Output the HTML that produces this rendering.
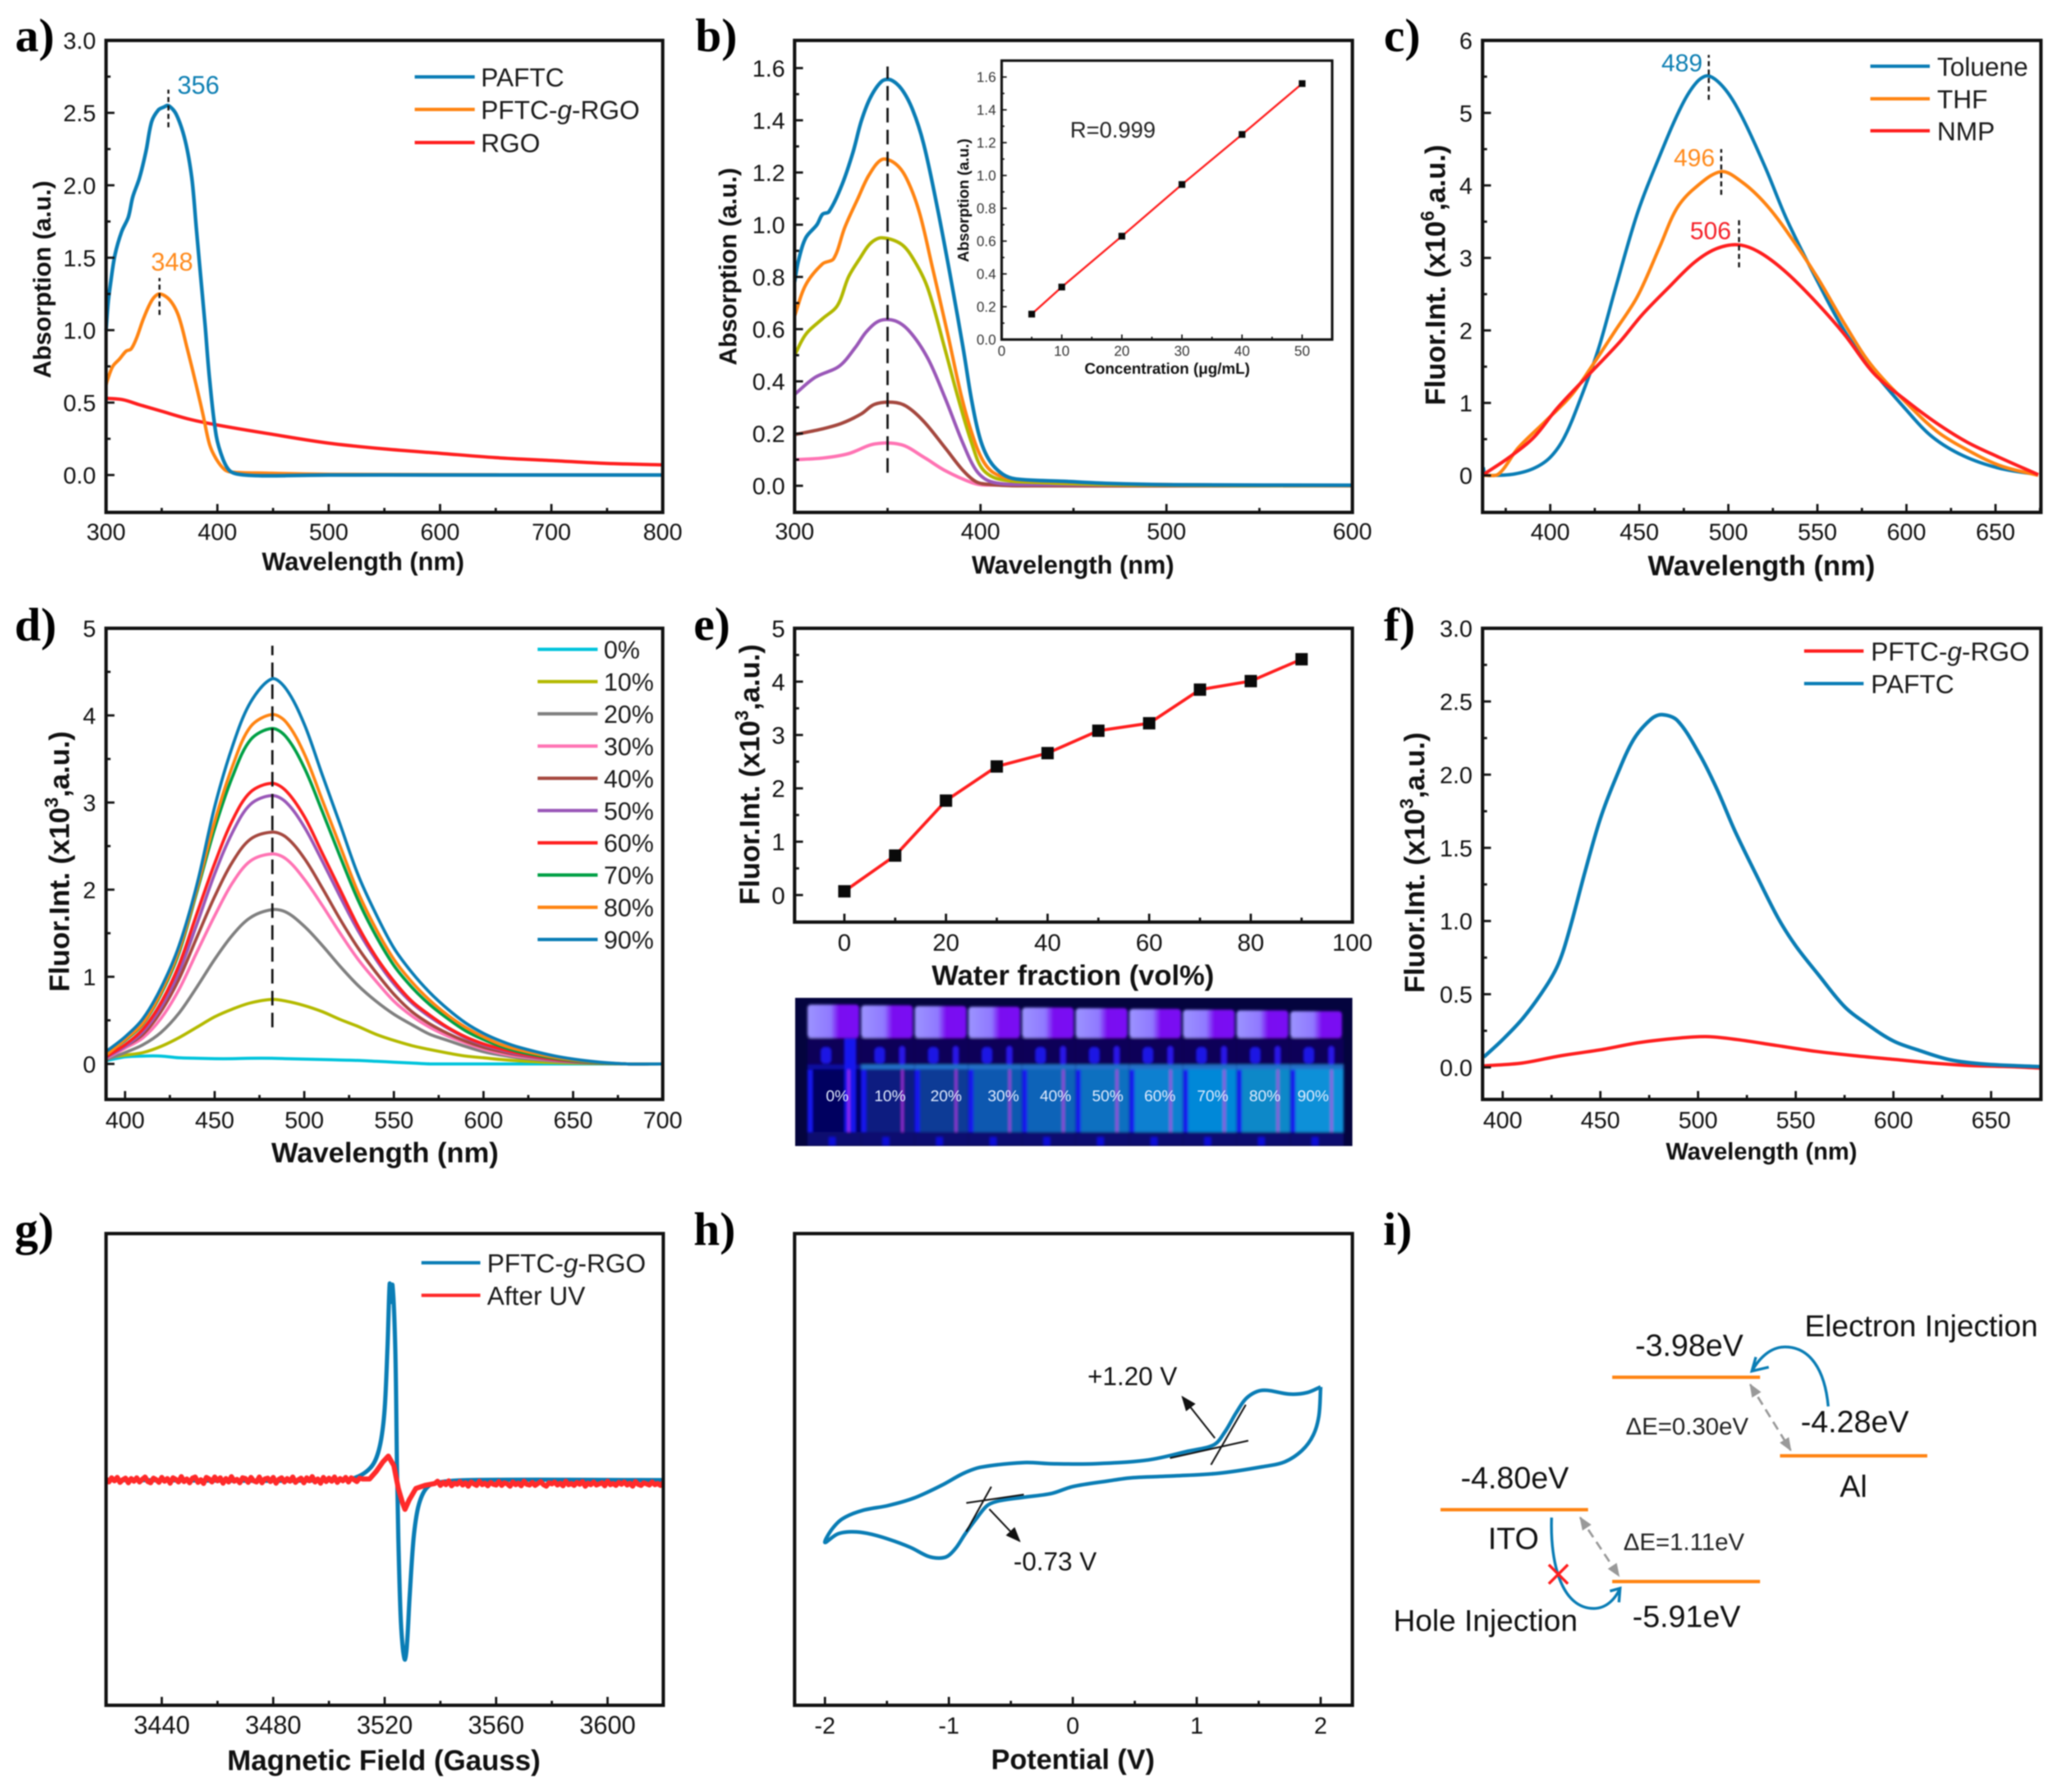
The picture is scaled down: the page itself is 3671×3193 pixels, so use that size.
<!DOCTYPE html>
<html lang="en">
<head>
<meta charset="utf-8">
<title>Optical and electrochemical characterisation panels</title>
<style>
html,body{margin:0;padding:0;background:#fff;}
#fig{display:block;width:3671px;height:3193px;font-family:"Liberation Sans",sans-serif;filter:blur(1px);}
.pl{font-family:"Liberation Serif",serif;font-weight:700;font-size:84px;fill:#000;}
.at{font-weight:700;fill:#111;text-anchor:middle;}
.lg{font-size:46.3px;fill:#1a1a1a;}
.fr{fill:none;stroke:#111;stroke-width:6;}
.e{font-size:55px;fill:#111;}
.inj{font-size:54.2px;fill:#111;}
</style>
</head>
<body>
<svg id="fig" viewBox="0 0 3671 3193">
<defs>
<marker id="ah" viewBox="0 0 10 10" refX="9" refY="5" markerWidth="9" markerHeight="9" orient="auto-start-reverse"><path d="M0 1 L10 5 L0 9 Z" fill="#111"/></marker>
<marker id="ag" viewBox="0 0 10 10" refX="9" refY="5" markerWidth="6" markerHeight="6" orient="auto-start-reverse"><path d="M0 1 L10 5 L0 9 Z" fill="#999"/></marker>
<linearGradient id="capg" x1="0" x2="1" y1="0" y2="0"><stop offset="0" stop-color="#9c94ff"/><stop offset=".45" stop-color="#8f78ff"/><stop offset=".6" stop-color="#7a10f0"/><stop offset="1" stop-color="#7a08f4"/></linearGradient>
<filter id="soft"><feGaussianBlur stdDeviation="2.2"/></filter>
<clipPath id="photoClip"><rect x="1417" y="1778" width="993" height="264"/></clipPath>
</defs>
<rect x="0" y="0" width="3671" height="3193" fill="#fff"/>

<!-- Panel a -->
<g>
<text class="pl" x="27" y="91">a)</text>
<g id="a-marks"></g>
<rect class="fr" x="189" y="72" width="992" height="841"/>
<g id="a-axes"></g>
<text class="at" x="647" y="1016" font-size="45">Wavelength (nm)</text>
<text class="at" x="90" y="498" font-size="44" transform="rotate(-90 90 498)">Absorption (a.u.)</text>
<text x="316" y="167" font-size="45" fill="#0d7fb3">356</text>
<text x="269" y="482" font-size="45" fill="#ff8a1c">348</text>
<line x1="739" x2="846" y1="137" y2="137" stroke="#0a7db5" stroke-width="6"/>
<text class="lg" x="857" y="154">PAFTC</text>
<line x1="739" x2="846" y1="195" y2="195" stroke="#ff8412" stroke-width="6"/>
<text class="lg" x="857" y="212">PFTC-<tspan font-style="italic">g</tspan>-RGO</text>
<line x1="739" x2="846" y1="254" y2="254" stroke="#ff1f1f" stroke-width="6"/>
<text class="lg" x="857" y="271">RGO</text>
</g>

<!-- Panel b -->
<g>
<text class="pl" x="1239" y="91">b)</text>
<g id="b-marks"></g>
<rect class="fr" x="1416" y="72" width="994" height="841"/>
<g id="b-axes"></g>
<text class="at" x="1912" y="1022" font-size="45">Wavelength (nm)</text>
<text class="at" x="1312" y="475" font-size="44" transform="rotate(-90 1312 475)">Absorption (a.u.)</text>
<g id="inset-marks"></g>
<rect x="1785" y="108" width="589" height="497" fill="none" stroke="#111" stroke-width="4.5"/>
<g id="inset-axes"></g>
<text x="1907" y="245" font-size="40" fill="#222">R=0.999</text>
<text class="at" x="2080" y="666" font-size="27.5">Concentration (μg/mL)</text>
<text class="at" x="1726" y="357" font-size="27.5" transform="rotate(-90 1726 357)">Absorption (a.u.)</text>
</g>

<!-- Panel c -->
<g>
<text class="pl" x="2466" y="91">c)</text>
<g id="c-marks"></g>
<rect class="fr" x="2642" y="72" width="995" height="841"/>
<g id="c-axes"></g>
<text class="at" x="3139" y="1025" font-size="50.5">Wavelength (nm)</text>
<text class="at" x="2575" y="490" font-size="50.5" transform="rotate(-90 2575 490)">Fluor.Int. (x10<tspan font-size="33" dy="-20">6</tspan><tspan dy="20">,a.u.)</tspan></text>
<text x="3034" y="127" font-size="44" text-anchor="end" fill="#0d7fb3">489</text>
<text x="3056" y="296" font-size="44" text-anchor="end" fill="#ff8a1c">496</text>
<text x="3085" y="426" font-size="44" text-anchor="end" fill="#f5222a">506</text>
<line x1="3333" x2="3439" y1="118" y2="118" stroke="#0a7db5" stroke-width="6"/>
<text class="lg" x="3452" y="135">Toluene</text>
<line x1="3333" x2="3439" y1="176" y2="176" stroke="#ff8412" stroke-width="6"/>
<text class="lg" x="3452" y="193">THF</text>
<line x1="3333" x2="3439" y1="233" y2="233" stroke="#ff1f1f" stroke-width="6"/>
<text class="lg" x="3452" y="250">NMP</text>
</g>

<!-- Panel d -->
<g>
<text class="pl" x="26" y="1141">d)</text>
<g id="d-marks"></g>
<rect class="fr" x="189" y="1119.5" width="992" height="839.5"/>
<g id="d-axes"></g>
<text class="at" x="686" y="2071" font-size="50.5">Wavelength (nm)</text>
<text class="at" x="123" y="1535" font-size="50.5" transform="rotate(-90 123 1535)">Fluor.Int. (x10<tspan font-size="33" dy="-20">3</tspan><tspan dy="20">,a.u.)</tspan></text>
<g id="d-legend"></g>
</g>

<!-- Panel e -->
<g>
<text class="pl" x="1236" y="1140">e)</text>
<g id="e-marks"></g>
<rect class="fr" x="1416" y="1119.5" width="994" height="523.5"/>
<g id="e-axes"></g>
<text class="at" x="1912" y="1755" font-size="50.5">Water fraction (vol%)</text>
<text class="at" x="1353" y="1380" font-size="50.5" transform="rotate(-90 1353 1380)">Fluor.Int. (x10<tspan font-size="33" dy="-20">3</tspan><tspan dy="20">,a.u.)</tspan></text>
<g id="photo"></g>
</g>

<!-- Panel f -->
<g>
<text class="pl" x="2466" y="1141">f)</text>
<g id="f-marks"></g>
<rect class="fr" x="2642" y="1119.5" width="995" height="839.5"/>
<g id="f-axes"></g>
<text class="at" x="3139" y="2066" font-size="42.5">Wavelength (nm)</text>
<text class="at" x="2538" y="1537" font-size="50.5" transform="rotate(-90 2538 1537)">Fluor.Int. (x10<tspan font-size="33" dy="-20">3</tspan><tspan dy="20">,a.u.)</tspan></text>
<line x1="3215" x2="3321" y1="1160" y2="1160" stroke="#ff1f1f" stroke-width="6"/>
<text class="lg" x="3334" y="1177">PFTC-<tspan font-style="italic">g</tspan>-RGO</text>
<line x1="3215" x2="3321" y1="1218" y2="1218" stroke="#0a7db5" stroke-width="6"/>
<text class="lg" x="3334" y="1235">PAFTC</text>
</g>

<!-- Panel g -->
<g>
<text class="pl" x="26" y="2218">g)</text>
<g id="g-marks"></g>
<rect class="fr" x="189" y="2198" width="993" height="840.5"/>
<g id="g-axes"></g>
<text class="at" x="684" y="3154" font-size="51">Magnetic Field (Gauss)</text>
<line x1="751" x2="856" y1="2250" y2="2250" stroke="#0a7db5" stroke-width="6"/>
<text class="lg" x="868" y="2267">PFTC-<tspan font-style="italic">g</tspan>-RGO</text>
<line x1="751" x2="856" y1="2308" y2="2308" stroke="#ff2a2a" stroke-width="6"/>
<text class="lg" x="868" y="2325">After UV</text>
</g>

<!-- Panel h -->
<g>
<text class="pl" x="1236" y="2218">h)</text>
<g id="h-marks"></g>
<rect class="fr" x="1416" y="2198" width="994" height="840.5"/>
<g id="h-axes"></g>
<text class="at" x="1912" y="3152" font-size="50">Potential (V)</text>
<g stroke="#111" stroke-width="3">
<line x1="2085" y1="2598" x2="2224.5" y2="2567"/>
<line x1="2158" y1="2610" x2="2220" y2="2503"/>
<line x1="1722" y1="2678" x2="1824.5" y2="2663"/>
<line x1="1722" y1="2729" x2="1766.5" y2="2649"/>
<line x1="2165" y1="2562.5" x2="2107" y2="2489" marker-end="url(#ah)"/>
<line x1="1763" y1="2689" x2="1817" y2="2746" marker-end="url(#ah)"/>
</g>
<text x="1938" y="2468" font-size="46" fill="#111">+1.20 V</text>
<text x="1806" y="2798" font-size="46" fill="#111">-0.73 V</text>
</g>

<!-- Panel i -->
<g>
<text class="pl" x="2465" y="2218">i)</text>
<g stroke="#ff8412" stroke-width="6">
<line x1="2873" x2="3136.5" y1="2454" y2="2454"/>
<line x1="3172" x2="3434.5" y1="2594" y2="2594"/>
<line x1="2567" x2="2830" y1="2690" y2="2690"/>
<line x1="2873" x2="3136.5" y1="2818" y2="2818"/>
</g>
<text class="e" x="2914" y="2416">-3.98eV</text>
<text class="e" x="3209" y="2552">-4.28eV</text>
<text class="e" x="2603" y="2652">-4.80eV</text>
<text class="e" x="2909" y="2899">-5.91eV</text>
<text class="e" x="3303" y="2667" text-anchor="middle">Al</text>
<text class="e" x="2697" y="2760" text-anchor="middle">ITO</text>
<text class="inj" x="3216" y="2381">Electron Injection</text>
<text class="inj" x="2483" y="2906">Hole Injection</text>
<text x="2897" y="2556" font-size="43" fill="#222">ΔE=0.30eV</text>
<text x="2893" y="2762" font-size="43" fill="#222">ΔE=1.11eV</text>
<g fill="none" stroke="#0a7db5" stroke-width="5">
<path d="M3258 2506 C3252 2440 3225 2400 3181 2400 C3155 2400 3135 2420 3122 2443 M3129 2418 L3122 2443 L3152 2436"/>
<path d="M2765 2704 C2762 2790 2785 2866 2840 2866 C2862 2866 2878 2850 2887 2830 M2869 2835 L2887 2830 L2885 2855"/>
</g>
<g stroke="#ff1f1f" stroke-width="5">
<line x1="2760" y1="2788" x2="2794" y2="2822"/>
<line x1="2794" y1="2788" x2="2760" y2="2822"/>
</g>
<line x1="3119" y1="2467" x2="3191" y2="2584" stroke="#999" stroke-width="4" stroke-dasharray="16 10" marker-start="url(#ag)" marker-end="url(#ag)"/>
<line x1="2816" y1="2704" x2="2885" y2="2808" stroke="#999" stroke-width="4" stroke-dasharray="16 10" marker-start="url(#ag)" marker-end="url(#ag)"/>
</g>
</svg>

<script>
/* ---------- Panel a data ---------- */
const aXTicks=['300','400','500','600','700','800'];
const aXMinor=[350,450,550,650,750];
const aYTicks=['0.0','0.5','1.0','1.5','2.0','2.5','3.0'];
const aYMinor=[0.25,0.75,1.25,1.75,2.25,2.75];
const aPaftcX=[300,302,304,308,314,320,324,330,336,341,347,352,356,363,371,377,381,385,389,393,399,405,411,419,440,500,600,700,800];
const aPaftcY=[1.0,1.2,1.32,1.52,1.68,1.78,1.92,2.05,2.24,2.44,2.52,2.54,2.55,2.49,2.31,2.05,1.71,1.37,1.03,0.66,0.27,0.11,0.03,0.005,-0.005,0,0,0,0];
const aPftcX=[300,301,306,312,318,322.5,327.6,333.6,341.5,348,357,365,373,381,387,393,399,406.6,413,442,501,800];
const aPftcY=[0.62,0.65,0.75,0.8,0.855,0.87,0.95,1.08,1.21,1.25,1.21,1.1,0.87,0.62,0.42,0.21,0.11,0.037,0.02,0.013,0.005,0];
const aRgoX=[300,315,330,350,375,400,450,500,550,600,650,700,750,800];
const aRgoY=[0.53,0.52,0.485,0.44,0.385,0.345,0.28,0.22,0.18,0.15,0.12,0.1,0.08,0.07];

/* ---------- Panel b data ---------- */
const bXTicks=['300','400','500','600'];
const bXMinor=[350,450,550];
const bYTicks=['0.0','0.2','0.4','0.6','0.8','1.0','1.2','1.4','1.6'];
const bYMinor=[0.1,0.3,0.5,0.7,0.9,1.1,1.3,1.5];
const b50X=[300,302,306,312,315,318.5,325.6,331.5,336,341,347,351.6,357.5,363.5,369.4,376.5,383.6,390.7,395.4,400,405,412,419,445,469,504,600];
const b50Y=[0.78,0.86,0.95,1.0,1.04,1.05,1.155,1.28,1.4,1.49,1.55,1.555,1.52,1.44,1.31,1.075,0.81,0.525,0.32,0.175,0.095,0.044,0.026,0.017,0.009,0.004,0.002];
const b40X=[300,306,315,321,327,334,340,347,354,360,367,374,382.4,389.5,395.4,401,407,417,445,481,600];
const b40Y=[0.65,0.77,0.85,0.87,0.99,1.1,1.19,1.25,1.235,1.18,1.05,0.84,0.58,0.35,0.2,0.1,0.05,0.026,0.015,0.006,0];
const b30X=[300,306,315,323,329,335,341,347,357.5,364.6,371.7,381,388,395.4,401,409.6,433,481,600];
const b30Y=[0.5,0.58,0.64,0.69,0.8,0.87,0.93,0.95,0.925,0.86,0.755,0.52,0.335,0.16,0.065,0.026,0.012,0.003,0];
const b20X=[300,311,324,332.7,338.6,345.7,354,362,371.7,381,390.7,397.8,405,420,600];
const b20Y=[0.35,0.415,0.458,0.53,0.59,0.632,0.632,0.59,0.487,0.335,0.16,0.058,0.017,0.005,0];
const b10X=[300,315,325.6,336,343,352.8,360,369.4,381,390.7,397.8,405,420,600];
const b10Y=[0.196,0.218,0.24,0.276,0.312,0.32,0.305,0.247,0.145,0.058,0.015,0.005,0,0];
const b5X=[300,315,329,343,357.5,369.4,381,395.4,402.5,600];
const b5Y=[0.1,0.106,0.123,0.16,0.157,0.11,0.058,0.012,0.003,0];

const insetXTicks=['0','10','20','30','40','50'];
const insetXMinor=[5,15,25,35,45];
const insetYTicks=['0.0','0.2','0.4','0.6','0.8','1.0','1.2','1.4','1.6'];
const insetYMinor=[0.1,0.3,0.5,0.7,0.9,1.1,1.3,1.5];
const insetConcentration=[5,10,20,30,40,50];
const insetAbsorption=[0.155,0.32,0.63,0.945,1.25,1.56];

/* ---------- Panel c data ---------- */
const cXTicks=['400','450','500','550','600','650'];
const cXMinor=[375,425,475,525,575,625,675];
const cYTicks=['0','1','2','3','4','5','6'];
const cYMinor=[0.5,1.5,2.5,3.5,4.5,5.5];
const cTolueneX=[362.4,363.6,368.6,380,391,400,408,417,427,436.6,449,461.5,474,482.5,489,498.4,508,520.7,533,550,565,580,600,614.6,632,652,674];
const cTolueneY=[0.11,0.01,0,0.02,0.1,0.25,0.53,1.06,1.74,2.58,3.62,4.41,5.11,5.43,5.51,5.32,4.93,4.25,3.52,2.68,2.0,1.48,0.9,0.53,0.27,0.1,0.01];
const cThfX=[363,371,382,397,412,424,436.6,449,461.4,471,481,496,508,520.7,533,550,565,580,600,617,632,652,674];
const cThfY=[0,0.02,0.38,0.74,1.11,1.53,2.0,2.47,3.15,3.68,3.96,4.19,4.04,3.75,3.36,2.73,2.1,1.53,1.0,0.61,0.38,0.14,0];
const cNmpX=[363,377,391,404,422,439,451.4,466,481,493.5,506,518,533,550,565,582,600,617,634,652,674];
const cNmpY=[0.02,0.25,0.53,0.93,1.4,1.84,2.21,2.58,2.94,3.13,3.18,3.07,2.79,2.37,1.95,1.4,1.03,0.72,0.46,0.25,0.01];

/* ---------- Panel d data ---------- */
const dXTicks=['400','450','500','550','600','650','700'];
const dXMinor=[425,475,525,575,625,675];
const dYTicks=['0','1','2','3','4','5'];
const dYMinor=[0.5,1.5,2.5,3.5,4.5];
const dWavelength=[390,400,410,420,430,440,450,460,470,482,490,500,510,520,530,540,550,560,570,580,590,600,610,620,640,660,680,700];
const dWater0=[0.04,0.08,0.09,0.09,0.07,0.065,0.06,0.06,0.065,0.065,0.06,0.055,0.05,0.045,0.04,0.03,0.02,0.01,0,0,0,0,0,0,0,0,0,0];
const dWater10=[0.07,0.1,0.13,0.2,0.3,0.42,0.54,0.63,0.7,0.74,0.72,0.67,0.6,0.51,0.43,0.34,0.27,0.21,0.165,0.125,0.09,0.07,0.05,0.035,0.015,0.005,0,0];
const dWater20=[0.05,0.13,0.22,0.36,0.58,0.88,1.2,1.48,1.68,1.77,1.74,1.58,1.36,1.12,0.9,0.72,0.57,0.45,0.34,0.27,0.2,0.14,0.1,0.07,0.03,0.01,0,0];
const dWater30=[0.07,0.18,0.3,0.52,0.85,1.28,1.7,2.08,2.33,2.41,2.35,2.12,1.82,1.5,1.2,0.95,0.72,0.55,0.42,0.32,0.24,0.17,0.12,0.085,0.04,0.015,0,0];
const dWater40=[0.08,0.2,0.34,0.6,0.97,1.45,1.92,2.32,2.58,2.66,2.6,2.36,2.02,1.66,1.33,1.05,0.8,0.6,0.46,0.35,0.26,0.19,0.14,0.1,0.045,0.015,0,0];
const dWater50=[0.08,0.2,0.37,0.65,1.05,1.6,2.18,2.66,2.98,3.08,3.0,2.72,2.33,1.92,1.53,1.2,0.92,0.7,0.54,0.41,0.3,0.22,0.16,0.11,0.05,0.02,0,0];
const dWater60=[0.09,0.22,0.4,0.7,1.13,1.72,2.3,2.8,3.12,3.22,3.13,2.84,2.42,2.0,1.58,1.23,0.95,0.72,0.56,0.42,0.31,0.23,0.17,0.12,0.055,0.02,0,0];
const dWater70=[0.12,0.27,0.46,0.8,1.27,1.97,2.7,3.3,3.72,3.85,3.75,3.4,2.9,2.38,1.88,1.47,1.13,0.88,0.68,0.52,0.38,0.28,0.2,0.14,0.065,0.02,0,0];
const dWater80=[0.11,0.28,0.47,0.82,1.3,2.0,2.78,3.42,3.87,4.01,3.92,3.56,3.03,2.5,1.97,1.55,1.2,0.94,0.73,0.56,0.42,0.31,0.22,0.16,0.075,0.025,0,0];
const dWater90=[0.15,0.31,0.52,0.87,1.35,2.05,2.95,3.65,4.15,4.42,4.3,3.9,3.32,2.75,2.17,1.72,1.33,1.05,0.82,0.63,0.47,0.35,0.26,0.19,0.09,0.03,0,0];
const dLegendLabels=['0%','10%','20%','30%','40%','50%','60%','70%','80%','90%'];

/* ---------- Panel e data ---------- */
const eXTicks=['0','20','40','60','80','100'];
const eXMinor=[10,30,50,70,90];
const eYTicks=['0','1','2','3','4','5'];
const eYMinor=[0.5,1.5,2.5,3.5,4.5];
const eWaterFraction=[0,10,20,30,40,50,60,70,80,90];
const eIntensity=[0.07,0.74,1.77,2.41,2.66,3.08,3.22,3.85,4.01,4.42];
const photoLabels=['0%','10%','20%','30%','40%','50%','60%','70%','80%','90%'];
const photoLiquid=['#000060','#0a1a80','#0c3a96','#0a58b0','#0864b8','#0870c0','#0880d0','#0088d8','#0a88c8','#0890d8'];

/* ---------- Panel f data ---------- */
const fXTicks=['400','450','500','550','600','650'];
const fXMinor=[425,475,525,575,625];
const fYTicks=['0.0','0.5','1.0','1.5','2.0','2.5','3.0'];
const fYMinor=[0.25,0.75,1.25,1.75,2.25,2.75];
const fPaftcX=[390.3,400,410.6,422,428.6,434,442,450,458,467,476,481.5,489.4,500.7,509.7,518.7,530,541,550,561.5,575,586,600,613,629,647,675];
const fPaftcY=[0.07,0.19,0.34,0.55,0.71,0.93,1.33,1.7,1.98,2.24,2.38,2.41,2.37,2.14,1.9,1.62,1.31,1.02,0.83,0.635,0.415,0.3,0.18,0.117,0.052,0.022,0.005];
const fPftcX=[390,410,430,450,470,490,505,520,540,560,580,600,620,640,660,675];
const fPftcY=[0.01,0.03,0.08,0.12,0.17,0.2,0.21,0.19,0.15,0.11,0.08,0.055,0.03,0.012,0.005,-0.005];

/* ---------- Panel g data ---------- */
const gXTicks=['3440','3480','3520','3560','3600'];
const gXMinor=[3460,3500,3540,3580];
const gBlueX=[3420,3505,3511.5,3516,3518.5,3520,3521,3521.8,3522.2,3522.8,3523.8,3524.4,3524.9,3525.7,3526.5,3527.3,3528,3529,3530.4,3532,3534.4,3537.5,3550,3620];
const gBlueY=[0,0,0.13,0.43,0.98,1.88,3.48,5.16,4.68,5.13,3.48,0.48,-1.52,-3.52,-4.42,-4.72,-4.32,-3.02,-1.52,-0.72,-0.27,-0.09,0,0];
const gRedX=[
3420,3421,3422,3423,3424,3425,3426,3427,3428,3429,
3430,3431,3432,3433,3434,3435,3436,3437,3438,3439,
3440,3441,3442,3443,3444,3445,3446,3447,3448,3449,
3450,3451,3452,3453,3454,3455,3456,3457,3458,3459,
3460,3461,3462,3463,3464,3465,3466,3467,3468,3469,
3470,3471,3472,3473,3474,3475,3476,3477,3478,3479,
3480,3481,3482,3483,3484,3485,3486,3487,3488,3489,
3490,3491,3492,3493,3494,3495,3496,3497,3498,3499,
3500,3501,3502,3503,3504,3505,3506,3507,3508,3509,
3510,3511,3512,
3514.6,3517,3519.4,3521.3,3523.3,3524.9,3526.5,3527.3,3528.8,3531.2,3534.4,
3538,3539,3540,3541,3542,3543,3544,3545,3546,3547,
3548,3549,3550,3551,3552,3553,3554,3555,3556,3557,
3558,3559,3560,3561,3562,3563,3564,3565,3566,3567,
3568,3569,3570,3571,3572,3573,3574,3575,3576,3577,
3578,3579,3580,3581,3582,3583,3584,3585,3586,3587,
3588,3589,3590,3591,3592,3593,3594,3595,3596,3597,
3598,3599,3600,3601,3602,3603,3604,3605,3606,3607,
3608,3609,3610,3611,3612,3613,3614,3615,3616,3617,
3618,3619,3620];
const gRedY=[
0.03,-0.05,0.06,-0.02,0.07,-0.06,0.01,0.05,-0.07,0.04,
-0.03,0.06,-0.05,0.02,0.08,-0.04,-0.07,0.05,0.01,-0.06,
0.07,-0.03,0.04,-0.08,0.06,0.02,-0.05,0.09,-0.04,0.03,
-0.07,0.05,0.08,-0.06,0.01,-0.09,0.07,0.03,-0.05,0.08,
-0.02,0.06,-0.08,0.04,-0.05,0.09,-0.03,0.02,-0.07,0.06,
0.04,-0.06,0.07,-0.02,-0.05,0.08,-0.07,0.03,0.05,-0.04,
0.07,-0.08,0.02,0.06,-0.05,0.04,-0.03,0.08,-0.06,0.01,
0.05,-0.07,0.06,-0.02,0.09,-0.05,0.03,-0.08,0.07,-0.04,
0.05,-0.03,0.08,-0.06,0.04,-0.02,0.07,-0.05,0.06,0.01,
-0.04,0.05,0.03,
0.03,0.23,0.48,0.63,0.38,-0.22,-0.62,-0.77,-0.52,-0.22,-0.14,
-0.09,-0.03,-0.14,-0.06,-0.12,-0.02,-0.15,-0.08,-0.11,-0.04,
-0.13,-0.07,-0.16,-0.05,-0.1,-0.14,-0.03,-0.12,-0.08,-0.15,
-0.06,-0.11,-0.13,-0.04,-0.14,-0.07,-0.1,-0.16,-0.05,-0.12,
-0.08,-0.15,-0.03,-0.11,-0.13,-0.06,-0.14,-0.09,-0.04,-0.12,
-0.16,-0.07,-0.1,-0.05,-0.13,-0.08,-0.15,-0.03,-0.12,-0.09,
-0.14,-0.06,-0.11,-0.04,-0.16,-0.08,-0.12,-0.05,-0.13,-0.1,
-0.07,-0.15,-0.03,-0.12,-0.09,-0.14,-0.06,-0.11,-0.05,-0.13,
-0.08,-0.16,-0.04,-0.11,-0.14,-0.07,-0.1,-0.13,-0.05,-0.12,
-0.09,-0.14,-0.06];

/* ---------- Panel h data ---------- */
const hXTicks=['-2','-1','0','1','2'];
const hXMinor=[-1.5,-0.5,0.5,1.5];
const hPotential=[2,1.985,1.94,1.85,1.71,1.53,1.18,0.82,0.47,0.29,0,-0.17,-0.39,-0.6,-0.69,-0.78,-0.87,-0.94,-1.01,-1.08,-1.17,-1.31,-1.49,-1.66,-1.79,-1.9,-2,-1.95,-1.86,-1.7,-1.49,-1.28,-1.06,-0.88,-0.74,-0.39,-0.17,0.18,0.61,0.93,1.14,1.23,1.32,1.41,1.53,1.75,1.89,2];
const hCurrent=[4.97,4.2,3.7,3.3,3.0,2.87,2.7,2.63,2.58,2.5,2.35,2.17,2.07,1.97,1.85,1.5,1.1,0.75,0.52,0.47,0.52,0.75,0.97,1.12,1.16,1.1,0.88,1.2,1.5,1.72,1.85,2.05,2.38,2.7,2.86,2.98,2.95,2.95,3.05,3.28,3.45,3.8,4.3,4.7,4.88,4.78,4.82,4.97];

/* ---------- Drawing helpers ---------- */
const svgNS=document.getElementById('fig').namespaceURI;
const BLUE='#0a7db5',ORANGE='#ff8412',RED='#ff1f1f';

function frameOf(l,r,t,b,x0,x1,y0,y1){
  return {l,r,t,b,
    sx:v=>l+(v-x0)/(x1-x0)*(r-l),
    sy:v=>b-(v-y0)/(y1-y0)*(b-t)};
}
const fa=frameOf(189,1181,72,913,300,800,-0.258,3);
const fb=frameOf(1416,2410,72,913,300,600,-0.102,1.706);
const fi=frameOf(1785,2374,108,605,0,55,0,1.7);
const fc=frameOf(2642,3637,72,913,362,675.5,-0.51,6);
const fd=frameOf(189,1181,1119.5,1959,389.4,700,-0.408,5);
const fe=frameOf(1416,2410,1119.5,1643,-9.8,100,-0.507,5);
const ff=frameOf(2642,3637,1119.5,1959,389.7,675.5,-0.219,3);
const fg=frameOf(189,1182,2198,3038.5,3420,3620,-5.92,6.48);
const fh=frameOf(1416,2410,2198,3038.5,-2.245,2.256,-3.4,9);

/* Chord-length Catmull-Rom: no overshoot across unevenly spaced samples */
function pathFor(f,xs,ys,smooth){
  const p=xs.map((x,i)=>[f.sx(x),f.sy(ys[i])]);
  let d='M'+p[0][0].toFixed(1)+' '+p[0][1].toFixed(1);
  if(!smooth){
    for(let i=1;i<p.length;i++)d+='L'+p[i][0].toFixed(1)+' '+p[i][1].toFixed(1);
    return d;
  }
  const t=[0];
  for(let i=1;i<p.length;i++)t.push(t[i-1]+Math.max(Math.hypot(p[i][0]-p[i-1][0],p[i][1]-p[i-1][1]),0.01));
  const tan=i=>{
    const a=Math.max(i-1,0),b=Math.min(i+1,p.length-1),dt=t[b]-t[a];
    return [(p[b][0]-p[a][0])/dt,(p[b][1]-p[a][1])/dt];
  };
  for(let i=0;i<p.length-1;i++){
    const h=(t[i+1]-t[i])/3,m0=tan(i),m1=tan(i+1);
    d+='C'+(p[i][0]+m0[0]*h).toFixed(1)+' '+(p[i][1]+m0[1]*h).toFixed(1)+' '+(p[i+1][0]-m1[0]*h).toFixed(1)+' '+(p[i+1][1]-m1[1]*h).toFixed(1)+' '+p[i+1][0].toFixed(1)+' '+p[i+1][1].toFixed(1);
  }
  return d;
}
function drawSeries(gid,f,xs,ys,color,width,name,smooth){
  const el=document.createElementNS(svgNS,'path');
  el.setAttribute('d',pathFor(f,xs,ys,smooth!==false));
  el.setAttribute('fill','none');
  el.setAttribute('stroke',color);
  el.setAttribute('stroke-width',width);
  el.setAttribute('stroke-linejoin','round');
  
  
  document.getElementById(gid).appendChild(el);
}
function drawMarkers(gid,f,xs,ys,size,name){
  xs.forEach((x,i)=>{
    const el=document.createElementNS(svgNS,'rect');
    el.setAttribute('x',f.sx(x)-size/2);
    el.setAttribute('y',f.sy(ys[i])-size/2);
    el.setAttribute('width',size);
    el.setAttribute('height',size);
    el.setAttribute('fill','#0a0a0a');
    
    
    document.getElementById(gid).appendChild(el);
  });
}
function drawPeakLine(gid,f,x,v0,v1,width,dash,name){
  const el=document.createElementNS(svgNS,'line');
  el.setAttribute('x1',f.sx(x));
  el.setAttribute('x2',f.sx(x));
  el.setAttribute('y1',f.sy(v0));
  el.setAttribute('y2',f.sy(v1));
  el.setAttribute('stroke','#111');
  el.setAttribute('stroke-width',width);
  el.setAttribute('stroke-dasharray',dash);
  
  
  document.getElementById(gid).appendChild(el);
}
function tickLine(g,x1,y1,x2,y2,w,name){
  const el=document.createElementNS(svgNS,'line');
  el.setAttribute('x1',x1);el.setAttribute('y1',y1);el.setAttribute('x2',x2);el.setAttribute('y2',y2);
  el.setAttribute('stroke','#111');
  el.setAttribute('stroke-width',w);
  
  
  g.appendChild(el);
}
function tickText(g,x,y,str,size,anchor,fill,name){
  const el=document.createElementNS(svgNS,'text');
  el.setAttribute('x',x);el.setAttribute('y',y);
  el.setAttribute('font-size',size);
  el.setAttribute('text-anchor',anchor);
  el.setAttribute('fill',fill);
  el.textContent=str;
  
  
  g.appendChild(el);
}
function drawAxes(gid,f,xT,xM,yT,yM,o){
  const g=document.getElementById(gid);
  const maj=o.maj||15,min=o.min||8,w=o.w||4,fs=o.fs||42,fill=o.fill||'#111';
  xT.forEach(s=>{
    const x=f.sx(Number(s));
    tickLine(g,x,f.b,x,f.b-maj,w,'x-tick-'+s);
    tickText(g,x,o.xBase,s,o.xfs||fs,'middle',fill,'x-tick-label-'+s);
  });
  xM.forEach(v=>{const x=f.sx(v);tickLine(g,x,f.b,x,f.b-min,w,'x-minor-tick-'+v);});
  yT.forEach(s=>{
    const y=f.sy(Number(s));
    tickLine(g,f.l,y,f.l+maj,y,w,'y-tick-'+s);
    tickText(g,o.yRight,y+fs*0.36,s,fs,'end',fill,'y-tick-label-'+s);
  });
  yM.forEach(v=>{const y=f.sy(v);tickLine(g,f.l,y,f.l+min,y,w,'y-minor-tick-'+v);});
}

/* ---------- Panel a ---------- */
drawSeries('a-marks',fa,aRgoX,aRgoY,RED,6,'series-rgo');
drawSeries('a-marks',fa,aPftcX,aPftcY,ORANGE,6,'series-pftc-g-rgo');
drawSeries('a-marks',fa,aPaftcX,aPaftcY,BLUE,6.5,'series-paftc');
drawPeakLine('a-marks',fa,356,2.4,2.66,3.5,'9 6','peak-marker-356');
drawPeakLine('a-marks',fa,348,1.105,1.36,3.5,'9 6','peak-marker-348');
drawAxes('a-axes',fa,aXTicks,aXMinor,aYTicks,aYMinor,{xBase:962,yRight:171});

/* ---------- Panel b ---------- */
drawSeries('b-marks',fb,b5X,b5Y,'#ff74b4',6,'series-5-ug-ml');
drawSeries('b-marks',fb,b10X,b10Y,'#a5483f',6,'series-10-ug-ml');
drawSeries('b-marks',fb,b20X,b20Y,'#9a58b8',6,'series-20-ug-ml');
drawSeries('b-marks',fb,b30X,b30Y,'#b2b800',6,'series-30-ug-ml');
drawSeries('b-marks',fb,b40X,b40Y,ORANGE,6,'series-40-ug-ml');
drawSeries('b-marks',fb,b50X,b50Y,BLUE,6.5,'series-50-ug-ml');
drawPeakLine('b-marks',fb,350,0.05,1.606,4,'26 13','peak-marker-350');
drawAxes('b-axes',fb,bXTicks,bXMinor,bYTicks,bYMinor,{xBase:961,yRight:1399});
drawSeries('inset-marks',fi,insetConcentration,insetAbsorption,RED,3.5,'inset-fit-line',false);
drawMarkers('inset-marks',fi,insetConcentration,insetAbsorption,12,'inset-point');
drawAxes('inset-axes',fi,insetXTicks,insetXMinor,insetYTicks,insetYMinor,{xBase:634,yRight:1775,fs:25,maj:9,min:5,w:2.5,fill:'#333'});

/* ---------- Panel c ---------- */
drawSeries('c-marks',fc,cTolueneX,cTolueneY,BLUE,6,'series-toluene');
drawSeries('c-marks',fc,cThfX,cThfY,ORANGE,6,'series-thf');
drawSeries('c-marks',fc,cNmpX,cNmpY,RED,6,'series-nmp');
drawPeakLine('c-marks',fc,489,5.18,5.8,3.5,'9 6','peak-marker-489');
drawPeakLine('c-marks',fc,496,3.87,4.5,3.5,'9 6','peak-marker-496');
drawPeakLine('c-marks',fc,506,2.87,3.52,3.5,'9 6','peak-marker-506');
drawAxes('c-axes',fc,cXTicks,cXMinor,cYTicks,cYMinor,{xBase:962,yRight:2624});

/* ---------- Panel d ---------- */
const dSeries=[dWater0,dWater10,dWater20,dWater30,dWater40,dWater50,dWater60,dWater70,dWater80,dWater90];
const dColors=['#00c4dc','#b4ba00','#808080','#ff74b4','#a5483f','#9a58b8','#ff1f1f','#00a045','#ff8412','#0a7db5'];
const dLegendGroup=document.getElementById('d-legend');
dSeries.forEach((ys,i)=>{
  drawSeries('d-marks',fd,dWavelength,ys,dColors[i],5.5,'series-water-'+dLegendLabels[i]);
  const cy=1157+i*57.45;
  const ln=document.createElementNS(svgNS,'line');
  ln.setAttribute('x1',958);ln.setAttribute('x2',1065);ln.setAttribute('y1',cy);ln.setAttribute('y2',cy);
  ln.setAttribute('stroke',dColors[i]);ln.setAttribute('stroke-width',6);
  
  
  dLegendGroup.appendChild(ln);
  tickText(dLegendGroup,1076,cy+16,dLegendLabels[i],44.5,'start','#1a1a1a','legend-entry-'+dLegendLabels[i]);
});
drawPeakLine('d-marks',fd,482.2,0.42,4.8,4,'26 13','peak-marker-482');
drawAxes('d-axes',fd,dXTicks,dXMinor,dYTicks,dYMinor,{xBase:2010,yRight:171});

/* ---------- Panel e ---------- */
drawSeries('e-marks',fe,eWaterFraction,eIntensity,RED,5.5,'series-intensity-line',false);
drawMarkers('e-marks',fe,eWaterFraction,eIntensity,22,'intensity-point');
drawAxes('e-axes',fe,eXTicks,eXMinor,eYTicks,eYMinor,{xBase:1694,yRight:1399,fs:43});

/* Vial photo (illustrative, built from rectangles) */
(function(){
  const g=document.getElementById('photo');
  const bg=document.createElementNS(svgNS,'rect');
  bg.setAttribute('x',1417);bg.setAttribute('y',1778);bg.setAttribute('width',993);bg.setAttribute('height',264);
  bg.setAttribute('fill','#04043e');
  
  
  g.appendChild(bg);
  const clip=document.createElementNS(svgNS,'g');
  clip.setAttribute('clip-path','url(#photoClip)');
  
  
  g.appendChild(clip);
  const inner=document.createElementNS(svgNS,'g');
  inner.setAttribute('filter','url(#soft)');
  
  
  clip.appendChild(inner);
  function r(x,y,w,h,fill,name,rx){
    const el=document.createElementNS(svgNS,'rect');
    el.setAttribute('x',x);el.setAttribute('y',y);el.setAttribute('width',w);el.setAttribute('height',h);
    el.setAttribute('fill',fill);
    if(rx)el.setAttribute('rx',rx);
    
    
    inner.appendChild(el);
  }
  photoLabels.forEach((lab,i)=>{
    const x=1439+i*95.6,w=95;
    const capTop=1790+i*1.3;
    r(x,capTop,w-3,1849-capTop,'url(#capg)','vial-cap-'+lab,6);
    r(x,1849,w,48,'#0a0058','vial-neck-'+lab);
    r(x+24,1866,18,29,'#1c14e4','vial-reflection-a-'+lab,7);
    r(x+68,1864,10,34,'#2a14e8','vial-reflection-b-'+lab,5);
    r(x,1897,w,120,photoLiquid[i],'vial-liquid-'+lab);
    r(x,1897,w,8,i===0?'#0808a0':'#2070c8','vial-meniscus-'+lab);
    r(x,1906,9,111,'#1212ee','vial-edge-left-'+lab);
    if(i===0)r(x+66,1850,20,167,'#1212ee','vial-edge-glow-'+lab);
    r(x+72,1906,3,111,'#a830e8','vial-edge-right-'+lab);
    r(x,2017,w,25,'#0a0a70','vial-base-'+lab);
    r(x+38,2026,12,16,'#1010d8','vial-base-glow-'+lab);
  });
  const cx=[1492,1586,1686,1788,1881,1974,2067,2161,2254,2340];
  photoLabels.forEach((lab,i)=>{
    tickText(g,cx[i],1962,lab,28,'middle','#e4eeff','vial-label-'+lab);
  });
})();

/* ---------- Panel f ---------- */
drawSeries('f-marks',ff,fPftcX,fPftcY,RED,6,'series-pftc-g-rgo-f');
drawSeries('f-marks',ff,fPaftcX,fPaftcY,BLUE,6.5,'series-paftc-f');
drawAxes('f-axes',ff,fXTicks,fXMinor,fYTicks,fYMinor,{xBase:2010,yRight:2624});

/* ---------- Panel g ---------- */
drawSeries('g-marks',fg,gBlueX,gBlueY,BLUE,7.5,'series-pftc-g-rgo-g');
drawSeries('g-marks',fg,gRedX,gRedY,'#ff2a2a',9,'series-after-uv',false);
drawAxes('g-axes',fg,gXTicks,gXMinor,[],[],{xBase:3089,yRight:171,fs:45});

/* ---------- Panel h ---------- */
drawSeries('h-marks',fh,hPotential,hCurrent,BLUE,6.5,'series-cyclic-voltammogram');
drawAxes('h-axes',fh,hXTicks,hXMinor,[],[],{xBase:3089,yRight:1399});
</script>
</body>
</html>
